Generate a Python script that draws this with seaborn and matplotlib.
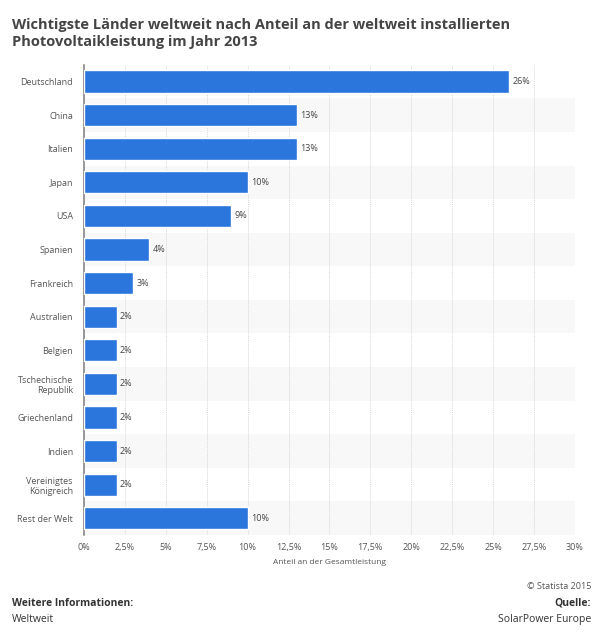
import matplotlib
matplotlib.use("Agg")
import matplotlib.pyplot as plt
import seaborn as sns
import pandas as pd

# Daten
laender = ["Deutschland", "China", "Italien", "Japan", "USA", "Spanien", "Frankreich",
           "Australien", "Belgien", "Tschechische\nRepublik", "Griechenland", "Indien",
           "Vereinigtes\nKönigreich", "Rest der Welt"]
anteil = [26, 13, 13, 10, 9, 4, 3, 2, 2, 2, 2, 2, 2, 10]
xticks = [0, 2.5, 5, 7.5, 10, 12.5, 15, 17.5, 20, 22.5, 25, 27.5, 30]
xtick_labels = ["0%", "2,5%", "5%", "7,5%", "10%", "12,5%", "15%", "17,5%", "20%",
                "22,5%", "25%", "27,5%", "30%"]

df = pd.DataFrame({"Land": laender, "Anteil": anteil})

sns.set_style("white")
plt.rcParams["font.family"] = ["Open Sans", "DejaVu Sans"]

fig = plt.figure(figsize=(6.0, 6.35), dpi=100)
ax = fig.add_axes([0.14, 0.1575, 0.818, 0.7405])

# abwechselnde Zeilenhintergründe
for i in range(len(laender)):
    if i % 2 == 1:
        ax.axhspan(i - 0.5, i + 0.5, color="#f8f8f8", zorder=0, lw=0)

sns.barplot(data=df, x="Anteil", y="Land", color="#2a76dd", saturation=1,
            width=0.66, ax=ax, zorder=3)

for i, v in enumerate(anteil):
    ax.text(v + 0.2, i, f"{v}%", va="center", ha="left", fontsize=6.5,
            color="#444444", zorder=4)

ax.set_xlim(0, 30)
ax.set_ylim(len(laender) - 0.5, -0.5)
ax.set_xticks(xticks)
ax.set_xticklabels(xtick_labels, fontsize=6.5, color="#555555")
ax.tick_params(axis="y", labelsize=6.5, labelcolor="#555555", length=0, pad=8)
ax.tick_params(axis="x", length=0, pad=6)
ax.grid(axis="x", color="#d8d8d8", linestyle=(0, (1, 1)), linewidth=0.7, zorder=1)
ax.set_axisbelow(True)
ax.set_ylabel("")
ax.set_xlabel("Anteil an der Gesamtleistung", fontsize=6, color="#555555", labelpad=5)
for s in ["top", "right", "bottom"]:
    ax.spines[s].set_visible(False)
ax.spines["left"].set_color("#888888")
ax.spines["left"].set_linewidth(1.2)
for lbl in ax.get_yticklabels():
    lbl.set_ha("right")
    lbl.set_multialignment("right")

# Titel
fig.text(0.02, 0.972, "Wichtigste Länder weltweit nach Anteil an der weltweit installierten\n"
         "Photovoltaikleistung im Jahr 2013", ha="left", va="top", fontsize=10.5,
         fontweight="bold", color="#444444", linespacing=1.3)

# Fußzeile
fig.text(0.985, 0.076, "© Statista 2015", ha="right", va="center", fontsize=6.5, color="#555555")
fig.text(0.02, 0.050, "Weitere Informationen:", ha="left", va="center", fontsize=7.5,
         fontweight="bold", color="#333333")
fig.text(0.985, 0.050, "Quelle:", ha="right", va="center", fontsize=7.5,
         fontweight="bold", color="#333333")
fig.text(0.02, 0.025, "Weltweit", ha="left", va="center", fontsize=7.5, color="#333333")
fig.text(0.985, 0.025, "SolarPower Europe", ha="right", va="center", fontsize=7.5, color="#333333")

fig.savefig("out.png", dpi=100, facecolor="white")
